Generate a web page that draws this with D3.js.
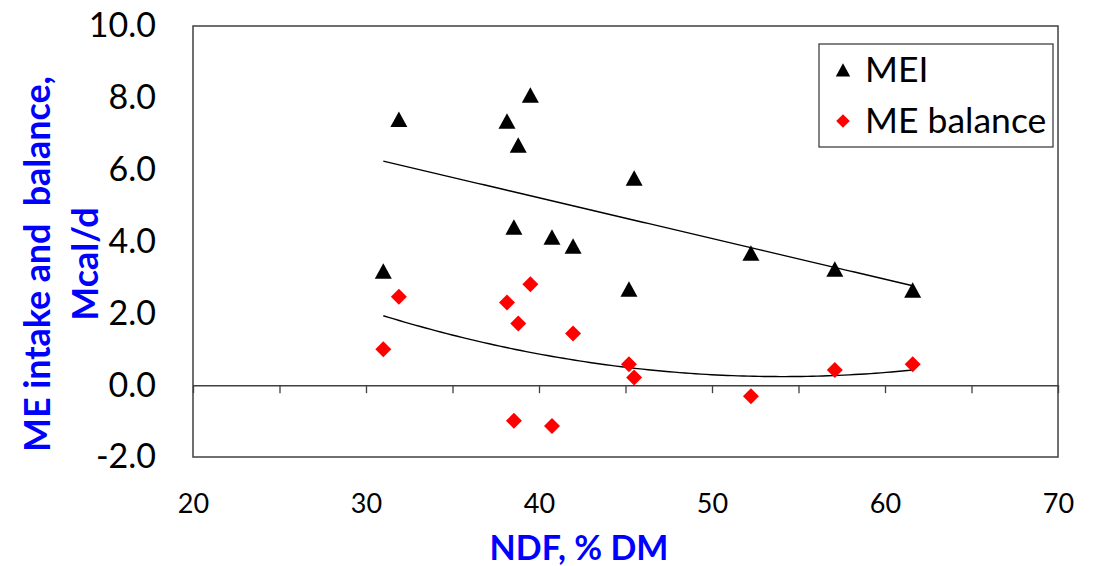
<!DOCTYPE html>
<html>
<head>
<meta charset="utf-8">
<script src="https://cdn.jsdelivr.net/npm/d3@7"></script>
<style>
  body { margin: 0; background: #fff; }
  svg { display: block; font-family: Lato, "Open Sans", sans-serif; }
</style>
</head>
<body>
<svg id="chart" width="1096" height="566"></svg>
<script>
// NDF (% DM) for each diet, shared by both series
var ndf = [31.0, 31.9, 38.15, 39.5, 38.8, 45.5, 38.55, 40.75, 41.97, 45.2, 52.25, 57.1, 61.6];
// ME intake, Mcal/d
var mei = [3.17, 7.40, 7.35, 8.07, 6.68, 5.76, 4.40, 4.12, 3.87, 2.67, 3.67, 3.23, 2.64];
// ME balance, Mcal/d
var meBalance = [1.00, 2.46, 2.30, 2.81, 1.72, 0.21, -0.99, -1.14, 1.44, 0.58, -0.31, 0.42, 0.58];

var xTicks = [20, 30, 40, 50, 60, 70];
var yTicks = [-2, 0, 2, 4, 6, 8, 10];
var seriesNames = ["MEI", "ME balance"];

var margin = {left: 193, top: 26, right: 38, bottom: 109};
var width = 1096 - margin.left - margin.right;
var height = 566 - margin.top - margin.bottom;
var axisColor = "#404040";

var svg = d3.select("#chart");
var g = svg.append("g")
    .attr("transform", "translate(" + margin.left + "," + margin.top + ")");

var x = d3.scaleLinear().domain([20, 70]).range([0, width]);
var y = d3.scaleLinear().domain([-2, 10]).range([height, 0]);

// least squares fit, polynomial of given order
function polyFit(xs, ys, order) {
  var n = order + 1;
  var A = [], b = [];
  for (var i = 0; i < n; i++) {
    A.push([]);
    for (var j = 0; j < n; j++) {
      A[i].push(d3.sum(xs, function(v) { return Math.pow(v, i + j); }));
    }
    b.push(d3.sum(xs, function(v, k) { return ys[k] * Math.pow(v, i); }));
  }
  // gaussian elimination
  for (var c = 0; c < n; c++) {
    for (var r = c + 1; r < n; r++) {
      var f = A[r][c] / A[c][c];
      for (var k = c; k < n; k++) A[r][k] -= f * A[c][k];
      b[r] -= f * b[c];
    }
  }
  var coef = new Array(n);
  for (var r2 = n - 1; r2 >= 0; r2--) {
    var s = b[r2];
    for (var k2 = r2 + 1; k2 < n; k2++) s -= A[r2][k2] * coef[k2];
    coef[r2] = s / A[r2][r2];
  }
  return function(v) {
    return d3.sum(coef, function(cf, p) { return cf * Math.pow(v, p); });
  };
}

// plot frame
g.append("rect")
    .attr("width", width)
    .attr("height", height)
    .attr("fill", "none")
    .attr("stroke", axisColor)
    .attr("stroke-width", 1.5);

// y tick labels
var yAxis = g.append("g")
    .call(d3.axisLeft(y).tickValues(yTicks).tickSize(0).tickPadding(37)
      .tickFormat(function(d) { return d.toFixed(1); }));
yAxis.select(".domain").remove();
yAxis.selectAll("text")
    .attr("fill", "#000")
    .style("font-size", "34px")
    .style("font-family", "Lato, sans-serif");

// x tick labels below the frame
var xAxis = g.append("g")
    .attr("transform", "translate(0," + height + ")")
    .call(d3.axisBottom(x).tickValues(xTicks).tickSize(0).tickPadding(37));
xAxis.select(".domain").remove();
xAxis.selectAll("text")
    .attr("fill", "#000")
    .style("font-size", "27px")
    .style("font-family", "Lato, sans-serif");

// zero line with its tick marks
var zeroAxis = g.append("g")
    .attr("transform", "translate(0," + y(0) + ")")
    .call(d3.axisBottom(x).tickValues(d3.range(20, 71, 5)).tickSize(8).tickSizeOuter(0).tickFormat(""));
zeroAxis.select(".domain").attr("stroke", axisColor).attr("stroke-width", 1.5);
zeroAxis.selectAll(".tick line").attr("stroke", axisColor).attr("stroke-width", 1.3);

// trend lines
var ndfExtent = d3.extent(ndf);
var fitSteps = d3.range(0, 101).map(function(i) {
  return ndfExtent[0] + (ndfExtent[1] - ndfExtent[0]) * i / 100;
});
var lineFit = polyFit(ndf, mei, 1);
var quadFit = polyFit(ndf, meBalance, 2);
var line = d3.line()
    .x(function(d) { return x(d[0]); })
    .y(function(d) { return y(d[1]); });

g.append("path")
    .datum(fitSteps.map(function(v) { return [v, lineFit(v)]; }))
    .attr("d", line)
    .attr("fill", "none")
    .attr("stroke", "#000")
    .attr("stroke-width", 1.4);

g.append("path")
    .datum(fitSteps.map(function(v) { return [v, quadFit(v)]; }))
    .attr("d", line)
    .attr("fill", "none")
    .attr("stroke", "#000")
    .attr("stroke-width", 1.4);

// markers
var triangle = "M0,-9L8.5,6.5L-8.5,6.5Z";
var diamond = "M0,-8L8,0L0,8L-8,0Z";

g.selectAll(".bal")
    .data(ndf)
    .enter()
    .append("path")
    .attr("class", "bal")
    .attr("d", diamond)
    .attr("fill", "#ff0000")
    .attr("transform", function(d, i) {
      return "translate(" + x(d) + "," + y(meBalance[i]) + ")";
    });

g.selectAll(".mei")
    .data(ndf)
    .enter()
    .append("path")
    .attr("class", "mei")
    .attr("d", triangle)
    .attr("fill", "#000")
    .attr("transform", function(d, i) {
      return "translate(" + x(d) + "," + (y(mei[i]) + 1) + ")";
    });

// legend
var legend = svg.append("g").attr("transform", "translate(819,44)");
legend.append("rect")
    .attr("width", 234)
    .attr("height", 103)
    .attr("fill", "#fff")
    .attr("stroke", axisColor)
    .attr("stroke-width", 1.3);
legend.append("path").attr("d", triangle).attr("fill", "#000")
    .attr("transform", "translate(24,27) scale(0.85)");
legend.append("path").attr("d", diamond).attr("fill", "#ff0000")
    .attr("transform", "translate(24,77) scale(0.85)");
legend.selectAll(".ltext")
    .data(seriesNames)
    .enter()
    .append("text")
    .attr("x", 46)
    .attr("y", function(d, i) { return 38 + i * 51; })
    .style("font-size", "35.5px")
    .attr("fill", "#000")
    .text(function(d) { return d; });

// axis titles
svg.append("text")
    .attr("x", 579)
    .attr("y", 560)
    .attr("text-anchor", "middle")
    .attr("fill", "#0000ff")
    .style("font-size", "34px")
    .style("font-weight", "bold")
    .text("NDF, % DM");

var yTitle = svg.append("text")
    .attr("transform", "translate(0,264) rotate(-90)")
    .attr("text-anchor", "middle")
    .attr("fill", "#0000ff")
    .style("font-size", "36px")
    .style("font-weight", "bold")
    .style("white-space", "pre");
yTitle.append("tspan").attr("x", 0).attr("y", 50).attr("textLength", 376).text("ME intake and  balance,");
yTitle.append("tspan").attr("x", 0).attr("y", 98).text("Mcal/d");
</script>
</body>
</html>
